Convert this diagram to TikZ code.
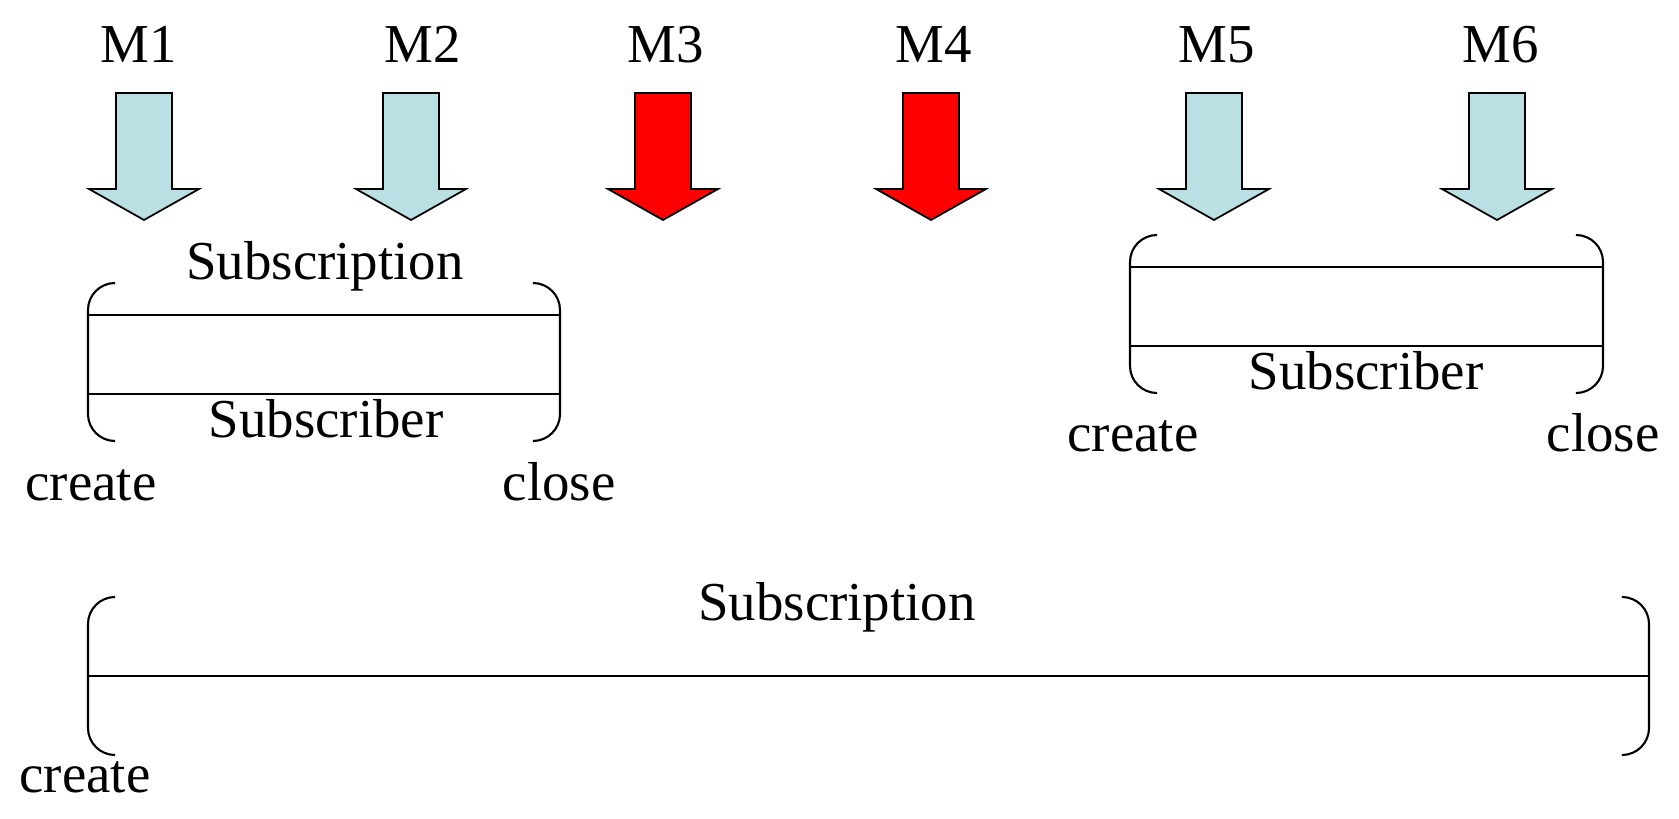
\documentclass[tikz,border=0pt]{standalone}
\usepackage{fontspec}
\setmainfont{Liberation Serif}
\usetikzlibrary{calc}
\definecolor{msgblue}{RGB}{187,224,227}
\definecolor{msgred}{RGB}{255,0,0}

\begin{document}
\begin{tikzpicture}[x=0.01cm,y=-0.01cm,
	every node/.style={font=\fontsize{15.6}{18}\selectfont,inner sep=0pt,anchor=base},
	okmsg/.style={draw=black,line width=0.5pt,fill=msgblue,line join=miter},
	lostmsg/.style={okmsg,fill=msgred},
	brkt/.style={line width=0.6pt,rounded corners=0.27cm},
	life/.style={line width=0.6pt}]

	\useasboundingbox (0,0) rectangle (1679,819);

	% define the tips of the message arrows
	\coordinate (T1) at (144,220);
	\coordinate (T2) at (411,220);
	\coordinate (T3) at (663,220);
	\coordinate (T4) at (931,220);
	\coordinate (T5) at (1214,220);
	\coordinate (T6) at (1497,220);

	% label the messages on the top
	\node (M1) at (139,63) {M1};
	\node (M2) at (423,63) {M2};
	\node (M3) at (666,63) {M3};
	\node (M4) at (934,63) {M4};
	\node (M5) at (1217,63) {M5};
	\node (M6) at (1501,63) {M6};

	% draw the message arrows
	\draw[okmsg] (T1) -- ++(-55,-31) -- ++(27,0) -- ++(0,-96) -- ++(56,0) -- ++(0,96) -- ++(27,0) -- cycle;
	\draw[okmsg] (T2) -- ++(-55,-31) -- ++(27,0) -- ++(0,-96) -- ++(56,0) -- ++(0,96) -- ++(27,0) -- cycle;
	\draw[lostmsg] (T3) -- ++(-55,-31) -- ++(27,0) -- ++(0,-96) -- ++(56,0) -- ++(0,96) -- ++(27,0) -- cycle;
	\draw[lostmsg] (T4) -- ++(-55,-31) -- ++(27,0) -- ++(0,-96) -- ++(56,0) -- ++(0,96) -- ++(27,0) -- cycle;
	\draw[okmsg] (T5) -- ++(-55,-31) -- ++(27,0) -- ++(0,-96) -- ++(56,0) -- ++(0,96) -- ++(27,0) -- cycle;
	\draw[okmsg] (T6) -- ++(-55,-31) -- ++(27,0) -- ++(0,-96) -- ++(56,0) -- ++(0,96) -- ++(27,0) -- cycle;

	% first subscription with its subscriber
	\coordinate (A) at (88,283);
	\coordinate (B) at (88,441);
	\coordinate (C) at (560,283);
	\coordinate (D) at (560,441);
	\draw[brkt] (A) ++(27,0) -- (A) -- (B) -- ++(27,0);
	\draw[brkt] (C) ++(-27,0) -- (C) -- (D) -- ++(-27,0);
	\coordinate (A1) at ($(A)!.2!(B)$);
	\coordinate (A2) at ($(A)!.7!(B)$);
	\coordinate (C1) at ($(C)!.2!(D)$);
	\coordinate (C2) at ($(C)!.7!(D)$);
	\draw[life] (A1) -- (C1) (A2) -- (C2);
	\node (S1) at (325,280) {Subscription};
	\node (R1) at (326,438) {Subscriber};
	\node (O1) at (91,501) {create};
	\node (X1) at (559,501) {close};

	% second subscriber
	\coordinate (E) at (1130,235);
	\coordinate (F) at (1130,393);
	\coordinate (G) at (1603,235);
	\coordinate (H) at (1603,393);
	\draw[brkt] (E) ++(27,0) -- (E) -- (F) -- ++(27,0);
	\draw[brkt] (G) ++(-27,0) -- (G) -- (H) -- ++(-27,0);
	\coordinate (E1) at ($(E)!.2!(F)$);
	\coordinate (E2) at ($(E)!.7!(F)$);
	\coordinate (G1) at ($(G)!.2!(H)$);
	\coordinate (G2) at ($(G)!.7!(H)$);
	\draw[life] (E1) -- (G1) (E2) -- (G2);
	\node (R2) at (1366,390) {Subscriber};
	\node (O2) at (1133,452) {create};
	\node (X2) at (1603,452) {close};

	% long subscription
	\coordinate (P) at (88,597);
	\coordinate (Q) at (88,755);
	\coordinate (R) at (1649,597);
	\coordinate (S) at (1649,755);
	\draw[brkt] (P) ++(27,0) -- (P) -- (Q) -- ++(27,0);
	\draw[brkt] (R) ++(-27,0) -- (R) -- (S) -- ++(-27,0);
	\coordinate (P1) at ($(P)!.5!(Q)$);
	\coordinate (R1) at ($(R)!.5!(S)$);
	\draw[life] (P1) -- (R1);
	\node (S3) at (837,621) {Subscription};
	\node (O3) at (85,792) {create};

\end{tikzpicture}
\end{document}
